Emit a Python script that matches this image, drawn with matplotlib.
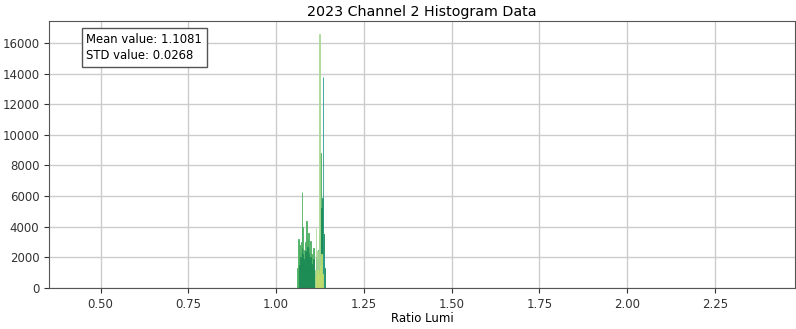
import numpy as np
import matplotlib
matplotlib.use("Agg")
import matplotlib.pyplot as plt

# Bin layout of the ratio histograms
bin_start = 1.060
bin_width = 0.0025
n_bins = 32

# Counts per bin for each run (bins from 1.060 to 1.140)
counts_a = [1300, 3200, 2800, 2300, 3000, 6300, 4000, 2500, 1800, 3000,
            4400, 3200, 3600, 2600, 1700, 3100, 2200, 1500, 2600, 1200,
            800, 0, 0, 0, 2500, 3500, 8800, 4000, 2000, 0, 0, 0]
counts_b = [0, 0, 1500, 2000, 1800, 2600, 2200, 1900, 1400, 2400,
            2000, 2700, 1900, 2300, 1300, 2000, 1600, 1200, 1900, 1000,
            900, 1400, 2000, 1600, 1800, 2400, 3000, 5200, 5900, 5600,
            3500, 1300]
counts_c = [0, 0, 0, 0, 0, 0, 0, 0, 0, 0,
            0, 0, 0, 0, 0, 0, 0, 0, 0, 0,
            1200, 3900, 1000, 2400, 900, 16600, 1500, 0, 0, 0,
            0, 0]
counts_d = [0, 0, 0, 0, 0, 0, 0, 0, 0, 0,
            0, 0, 0, 0, 0, 0, 0, 0, 0, 0,
            0, 0, 0, 0, 0, 0, 0, 0, 1500, 13800,
            2200, 0]
counts_e = [0, 0, 0, 0, 0, 0, 0, 0, 0, 0,
            0, 0, 0, 0, 0, 0, 0, 0, 0, 0,
            0, 0, 800, 1200, 700, 1000, 1400, 2200, 900, 0,
            0, 0]

series = [counts_a, counts_b, counts_c, counts_d, counts_e]
colors = ["#4caf63", "#1e8c55", "#a9d996", "#2b9c8c", "#bedc6c"]

mean_value = 1.1081
std_value = 0.0268

x_ticks = [0.50, 0.75, 1.00, 1.25, 1.50, 1.75, 2.00, 2.25]
y_ticks = list(range(0, 16001, 2000))

fig = plt.figure(figsize=(7.96, 3.29), dpi=100)
ax = fig.add_axes([0.0616, 0.1246, 0.9374, 0.8114])

edges = bin_start + bin_width * np.arange(n_bins + 1)
centers = 0.5 * (edges[:-1] + edges[1:])
for counts, color in zip(series, colors):
    ax.hist(centers, bins=edges, weights=counts, color=color,
            histtype="bar", rwidth=1.0, edgecolor=color, linewidth=0.6)

ax.set_xlim(0.353, 2.479)
ax.set_ylim(0, 16600 * 1.05)
ax.set_xticks(x_ticks)
ax.set_yticks(y_ticks)
ax.tick_params(labelsize=8.5, colors="#333333")
ax.grid(True, color="#cccccc", linewidth=1)
ax.set_axisbelow(True)
for sp in ax.spines.values():
    sp.set_color("#555555")

ax.set_title("2023 Channel 2 Histogram Data", fontsize=10.3, pad=4)
ax.set_xlabel("Ratio Lumi", fontsize=8.5, labelpad=1)

ax.text(0.05, 0.955, f"Mean value: {mean_value}\nSTD value: {std_value}",
        transform=ax.transAxes, fontsize=8.4, va="top", ha="left",
        linespacing=1.3,
        bbox=dict(boxstyle="square,pad=0.4", facecolor="white",
                  edgecolor="#555555"))

fig.savefig("out.png", dpi=100)
